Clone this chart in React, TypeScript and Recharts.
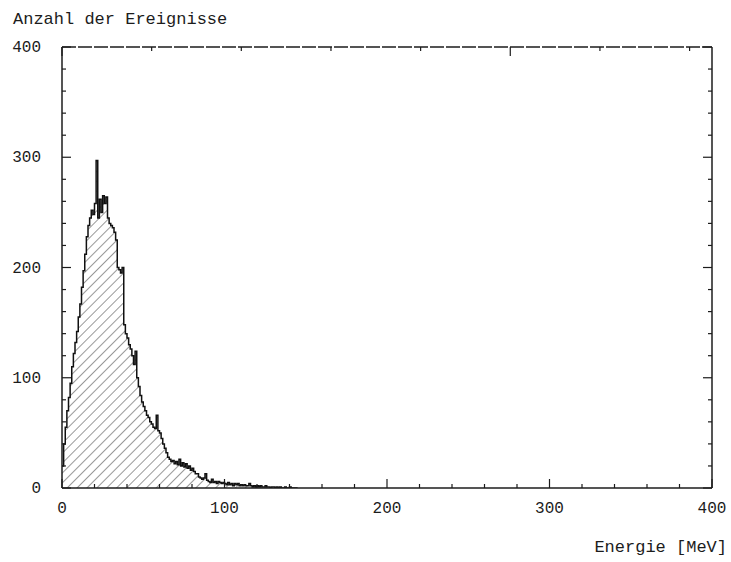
import React from 'react';
import { ComposedChart, Area, XAxis, YAxis } from 'recharts';

// counts per 1 MeV bin, starting at 0 MeV
const counts = [
  20, 40, 55, 70, 82, 95, 110, 122, 132, 142,
  155, 167, 182, 197, 212, 228, 238, 245, 252, 248,
  258, 297, 245, 262, 250, 265, 258, 264, 245, 240,
  238, 236, 232, 225, 200, 198, 195, 200, 148, 140,
  136, 130, 126, 120, 112, 124, 100, 92, 84, 78,
  74, 70, 66, 64, 60, 58, 55, 54, 66, 52,
  50, 45, 40, 36, 32, 28, 26, 24, 25, 22,
  24, 21, 26, 20, 23, 19, 22, 18, 20, 16,
  18, 15, 13, 13, 10, 9, 8, 9, 13, 7,
  6, 5, 8, 5, 6, 4, 6, 5, 4, 5,
  4, 3, 5, 3, 4, 2, 4, 3, 4, 2,
  3, 2, 3, 2, 2, 4, 2, 1, 2, 1,
  2, 1, 2, 1, 1, 2, 1, 1, 0, 1,
  1, 0, 1, 0, 1, 0, 0, 1, 0, 0,
  1, 0, 0, 0, 0, 0,
];
const BIN_MEV = 1;

const xTicks = [0, 20, 40, 60, 80, 100, 120, 140, 160, 180, 200, 220, 240, 260, 280, 300, 320, 340, 360, 380, 400];
const yTicks = [0, 20, 40, 60, 80, 100, 120, 140, 160, 180, 200, 220, 240, 260, 280, 300, 320, 340, 360, 380, 400];
const xLabels = [0, 100, 200, 300, 400];
const yLabels = [0, 100, 200, 300, 400];

const data = counts.map((c, i) => ({ e: i * BIN_MEV, n: c }));

const INK = '#1c1c1c';
const FONT = '"Liberation Mono", "DejaVu Sans Mono", monospace';

const tickLen = (v: number) => (v % 100 === 0 ? 9 : 4);

const BottomTick = (p: any) => {
  const v = p.payload.value;
  return (
    <g>
      <line x1={p.x} y1={p.y} x2={p.x} y2={p.y - tickLen(v)} stroke={INK} strokeWidth={1.2} />
      {xLabels.includes(v) && (
        <text x={p.x} y={p.y + 25} textAnchor="middle" fontFamily={FONT} fontSize={16} fill={INK}>
          {v}
        </text>
      )}
    </g>
  );
};

const TopTick = (p: any) => (
  <line x1={p.x} y1={p.y} x2={p.x} y2={p.y + tickLen(p.payload.value)} stroke={INK} strokeWidth={1.2} />
);

const LeftTick = (p: any) => {
  const v = p.payload.value;
  return (
    <g>
      <line x1={p.x} y1={p.y} x2={p.x + tickLen(v)} y2={p.y} stroke={INK} strokeWidth={1.2} />
      {yLabels.includes(v) && (
        <text x={p.x - 21} y={p.y + 5} textAnchor="end" fontFamily={FONT} fontSize={16} fill={INK}>
          {v}
        </text>
      )}
    </g>
  );
};

const RightTick = (p: any) => (
  <line x1={p.x} y1={p.y} x2={p.x - tickLen(p.payload.value)} y2={p.y} stroke={INK} strokeWidth={1.2} />
);

export default function App() {
  return (
    <div style={{ position: 'absolute', left: 0, top: 0, width: 731, height: 562, background: '#fff' }}>
      <ComposedChart
        width={731}
        height={562}
        data={data}
        margin={{ top: 46, right: 18, bottom: 73, left: 61 }}
      >
        <defs>
          <pattern id="hatch" patternUnits="userSpaceOnUse" width={7} height={7} patternTransform="rotate(45)">
            <line x1={0} y1={0} x2={0} y2={7} stroke="#333" strokeWidth={1} />
          </pattern>
        </defs>
        <XAxis
          xAxisId="b"
          dataKey="e"
          type="number"
          domain={[0, 400]}
          ticks={xTicks}
          interval={0}
          height={1}
          tickSize={0}
          tickMargin={0}
          tickLine={false}
          axisLine={{ stroke: INK, strokeWidth: 1.5 }}
          tick={BottomTick}
          allowDataOverflow
        />
        <XAxis
          xAxisId="t"
          orientation="top"
          type="number"
          domain={[0, 400]}
          ticks={xTicks}
          interval={0}
          height={1}
          tickSize={0}
          tickMargin={0}
          tickLine={false}
          axisLine={{ stroke: INK, strokeWidth: 1.3, strokeDasharray: '14 2' }}
          tick={TopTick}
          allowDataOverflow
        />
        <YAxis
          yAxisId="l"
          type="number"
          domain={[0, 400]}
          ticks={yTicks}
          interval={0}
          width={1}
          tickSize={0}
          tickMargin={0}
          tickLine={false}
          axisLine={{ stroke: INK, strokeWidth: 1.5 }}
          tick={LeftTick}
          allowDataOverflow
        />
        <YAxis
          yAxisId="r"
          orientation="right"
          type="number"
          domain={[0, 400]}
          ticks={yTicks}
          interval={0}
          width={1}
          tickSize={0}
          tickMargin={0}
          tickLine={false}
          axisLine={{ stroke: INK, strokeWidth: 1.5 }}
          tick={RightTick}
          allowDataOverflow
        />
        <Area
          xAxisId="b"
          yAxisId="l"
          dataKey="n"
          type="stepAfter"
          stroke="#111"
          strokeWidth={1.5}
          fill="url(#hatch)"
          fillOpacity={1}
          isAnimationActive={false}
          dot={false}
          activeDot={false}
        />
        <text x={13} y={24} fontFamily={FONT} fontSize={17} fill={INK}>
          Anzahl der Ereignisse
        </text>
        <text x={727} y={552} textAnchor="end" fontFamily={FONT} fontSize={17} fill={INK}>
          Energie [MeV]
        </text>
      </ComposedChart>
    </div>
  );
}
